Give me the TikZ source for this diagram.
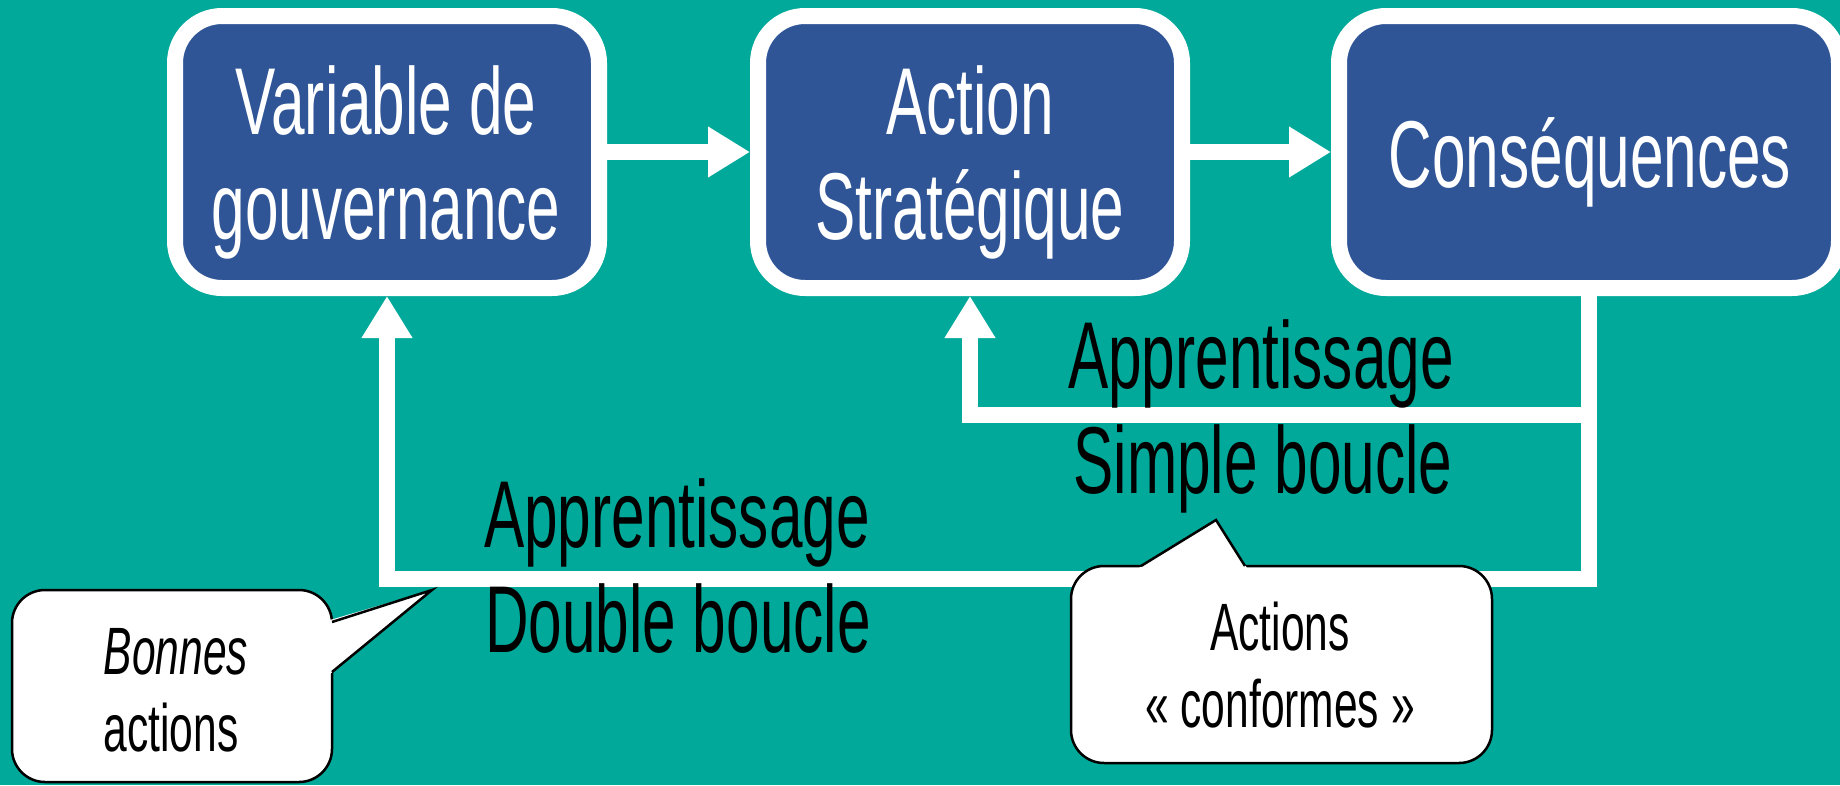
\documentclass[tikz,border=0pt]{standalone}
\usepackage{fontspec}
\setmainfont{Liberation Sans}[FakeStretch=0.635]
\usetikzlibrary{arrows.meta}
\definecolor{bgteal}{RGB}{0,169,154}
\definecolor{boxblue}{RGB}{47,85,151}
\tikzset{
  blockbox/.style={draw=white, line width=16pt, fill=boxblue, rounded corners=47pt,
    minimum height=272pt, inner sep=0pt, outer sep=8pt},
  flow/.style={draw=white, line width=16pt, line join=miter,
    -{Triangle[length=42pt,width=48pt]}},
  plainflow/.style={draw=white, line width=16pt, line join=miter},
  boxtext/.style={text=white, anchor=base, inner sep=0pt, font=\fontsize{95}{105}\selectfont},
  looptext/.style={text=black, anchor=base, inner sep=0pt, font=\fontsize{95}{105}\selectfont},
  calltext/.style={text=black, anchor=base, inner sep=0pt, font=\fontsize{67}{77}\selectfont},
  callbody/.style={draw=black, fill=white, line width=2.5pt, rounded corners=33pt, inner sep=0pt},
  pointer/.style={draw=black, line width=2.5pt, line join=miter},
}
\begin{document}
\begin{tikzpicture}[x=1pt,y=-1pt]
\useasboundingbox (0,0) rectangle (1840,785);
\fill[bgteal] (0,0) rectangle (1840,785);
\clip (0,0) rectangle (1840,785);

% main boxes
\node[blockbox, minimum width=424pt] (b1) at (387,152) {};
\node[blockbox, minimum width=424pt] (b2) at (970,152) {};
\node[blockbox, minimum width=500pt] (b3) at (1589,152) {};

\node[boxtext] (t1a) at (386,134) {Variable de};
\node[boxtext] (t1b) at (386,239) {gouvernance};
\node[boxtext] (t2a) at (970,134) {Action};
\node[boxtext] (t2b) at (970,239) {Stratégique};
\node[boxtext] (t3a) at (1590,187) {Conséquences};

% forward arrows
\draw[flow] (b1.east) -- (b2.west);
\draw[flow] (b2.east) -- (b3.west);

% loops
\coordinate (dl) at (387,579);
\coordinate (sl) at (970,415);
\draw[flow] (b3.south) |- (dl) -- (b1.south);
\draw[flow] (b3.south |- sl) -- (sl) -- (b2.south);

% loop labels
\node[looptext] (l1a) at (1261,388) {Apprentissage};
\node[looptext] (l1b) at (1263,493) {Simple boucle};
\node[looptext] (l2a) at (677,547) {Apprentissage};
\node[looptext] (l2b) at (678,652) {Double boucle};

% callout: Bonnes actions
\node[callbody, minimum width=320pt, minimum height=192pt] (cb1) at (172,686) {};
\coordinate (p1) at (432,590);
\fill[white] (330,620) -- (p1) -- (330,674) -- cycle;
\draw[pointer] (332,622) -- (p1) -- (332,672);
\node[calltext] (c1a) at (176,674) {\itshape Bonnes};
\node[calltext] (c1b) at (171,751) {actions};

% callout: Actions conformes
\node[callbody, minimum width=421pt, minimum height=197pt] (cb2) at (1281.5,664.5) {};
\coordinate (p2) at (1216,520);
\fill[white] (1139,568) -- (p2) -- (1247,568) -- cycle;
\draw[pointer] (1141,566) -- (p2) -- (1245,566);
\node[calltext] (c2a) at (1280,650) {Actions};
\node[calltext] (c2b) at (1280,727) {« conformes »};
\end{tikzpicture}
\end{document}
